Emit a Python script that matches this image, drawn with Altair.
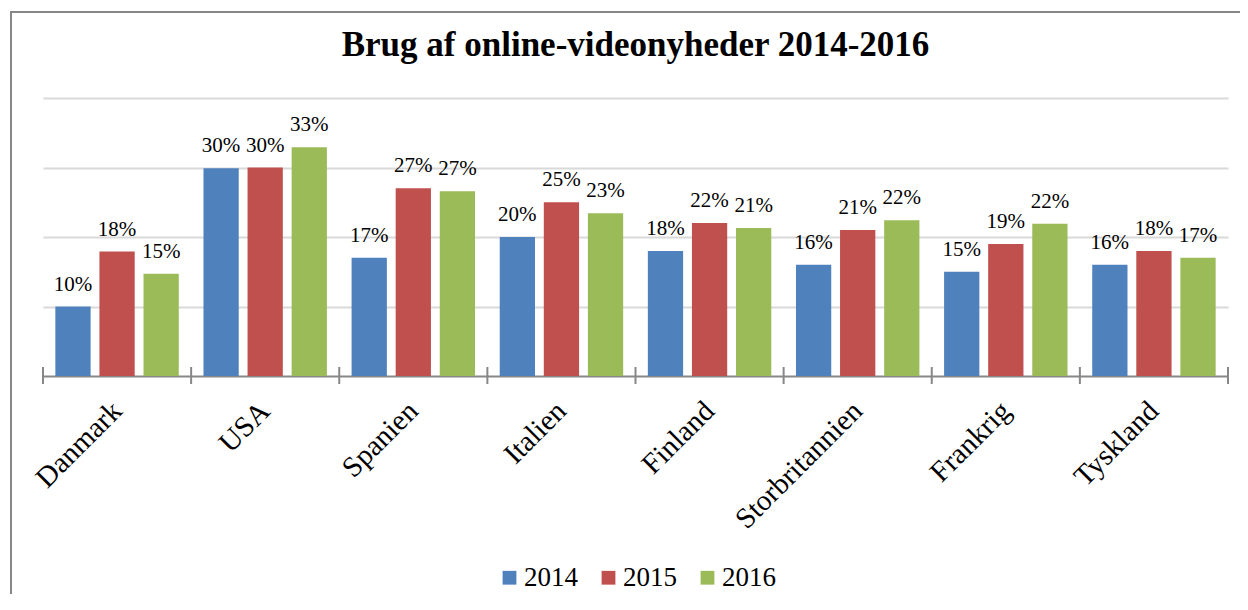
import altair as alt
import pandas as pd

countries = ["Danmark", "USA", "Spanien", "Italien", "Finland", "Storbritannien", "Frankrig", "Tyskland"]
years = ["2014", "2015", "2016"]
colors = ["#4F81BD", "#C0504D", "#9BBB59"]
v2014 = [0.100, 0.299, 0.170, 0.200, 0.180, 0.160, 0.150, 0.160]
v2015 = [0.179, 0.300, 0.270, 0.250, 0.220, 0.210, 0.190, 0.180]
v2016 = [0.147, 0.329, 0.266, 0.234, 0.213, 0.224, 0.219, 0.170]

rows = []
for yr, vals in zip(years, [v2014, v2015, v2016]):
    for c, v in zip(countries, vals):
        rows.append({"country": c, "year": yr, "value": v, "label": f"{round(v * 100):d}%"})
df = pd.DataFrame(rows)

W, H = 1185, 278
GRAY = "#878787"
FONT = "Liberation Serif"

x_enc = alt.X("country:N", sort=countries,
              scale=alt.Scale(paddingInner=0, paddingOuter=0),
              axis=alt.Axis(title=None, labelAngle=-45, labelFont=FONT,
                            labelFontSize=29, labelColor="black", domainColor=GRAY,
                            domainWidth=2, ticks=False, labelPadding=30, labelLimit=400,
                            labelAlign="right", labelBaseline="middle"))
xo_enc = alt.XOffset("year:N", sort=years, scale=alt.Scale(paddingInner=0.2, paddingOuter=0.28))
y_enc = alt.Y("value:Q", scale=alt.Scale(domain=[0, 0.4]),
              axis=alt.Axis(title=None, labels=False, ticks=False, domain=False,
                            values=[0.1, 0.2, 0.3, 0.4], gridColor="#d9d9d9", gridWidth=2))

bars = alt.Chart(df).mark_bar().encode(
    x=x_enc, xOffset=xo_enc, y=y_enc,
    color=alt.Color("year:N", sort=years, scale=alt.Scale(domain=years, range=colors),
                    legend=alt.Legend(title=None, orient="none", direction="horizontal",
                                      legendX=453, legendY=466, symbolType="square",
                                      symbolSize=190, symbolStrokeWidth=0, labelFont=FONT,
                                      labelFontSize=27, labelColor="black", columnPadding=17,
                                      labelOffset=1)),
)

labels = alt.Chart(df).mark_text(baseline="alphabetic", dy=-16, font=FONT,
                                 fontSize=21, color="black").encode(
    x=alt.X("country:N", sort=countries), xOffset=alt.XOffset("year:N", sort=years),
    y="value:Q", text="label:N")

ticks = alt.Chart(pd.DataFrame({"country": countries})).mark_rule(color=GRAY, strokeWidth=2).encode(
    x=alt.X("country:N", sort=countries, bandPosition=0),
    y=alt.value(H - 9), y2=alt.value(H + 8))

end_tick = alt.Chart(pd.DataFrame({"a": [1]})).mark_rule(color=GRAY, strokeWidth=2).encode(
    x=alt.value(W), y=alt.value(H - 9), y2=alt.value(H + 8))

one = pd.DataFrame({"a": [1]})
border_top = alt.Chart(one).mark_rule(color=GRAY, strokeWidth=2).encode(
    x=alt.value(-33), x2=alt.value(W + 40), y=alt.value(-86))
border_left = alt.Chart(one).mark_rule(color=GRAY, strokeWidth=2).encode(
    x=alt.value(-32), y=alt.value(-86), y2=alt.value(H + 260))

chart = alt.layer(border_top, border_left, bars, labels, ticks, end_tick).properties(
    width=W, height=H,
    title=alt.Title("Brug af online-videonyheder 2014-2016", font=FONT, fontSize=35,
                    fontWeight="bold", color="black", anchor="middle", frame="group", offset=-52),
    autosize=alt.AutoSizeParams(type="none"),
    padding={"left": 35, "top": 90, "right": 12, "bottom": 218},
).configure_view(stroke=None)

chart.save("out.html", embed_options={"renderer": "svg", "actions": False})
